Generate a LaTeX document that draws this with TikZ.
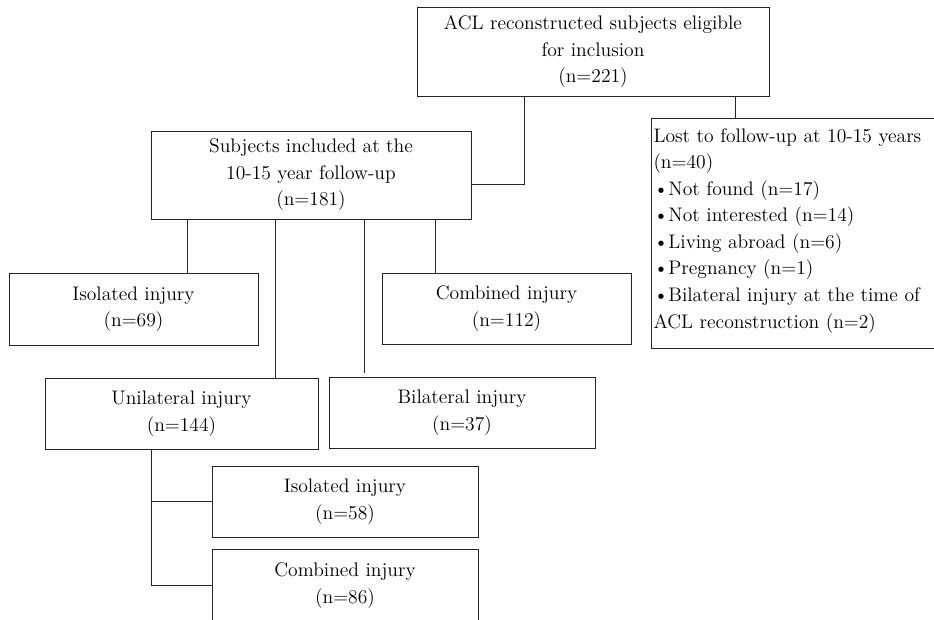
\documentclass[tikz,border=0pt]{standalone}
\usepackage{amsmath}

\tikzset{
  flowbox/.style={draw=black!85, line width=0.75pt, rectangle, align=center, inner sep=1.5pt,
    font=\fontsize{14.7pt}{19.9pt}\selectfont},
  lostbox/.style={flowbox, align=left, anchor=north west, text width=222pt, inner xsep=1.5pt},
  link/.style={draw=black!85, line width=0.75pt}
}

\begin{document}
\begin{tikzpicture}[x=0.75pt,y=0.75pt,yscale=-1,xscale=1]
		\useasboundingbox (0,0) rectangle (934,619);
		\clip (0,0) rectangle (934,619);
		% boxes
		\node [flowbox, minimum width=264pt, minimum height=66.75pt] (eligible) at (593,51.5) {ACL reconstructed subjects eligible\\ for inclusion\\ (n=221)};
		\node [flowbox, minimum width=240pt, minimum height=66pt] (included) at (311,175) {Subjects included at the\\ 10-15 year follow-up\\ (n=181)};
		\node [lostbox, minimum width=225pt, minimum height=172.5pt] (lost) at (651,118) {Lost to follow-up at 10-15 years\\ (n=40)\\ \textbullet Not found (n=17)\\ \textbullet Not interested (n=14)\\ \textbullet Living abroad (n=6)\\ \textbullet Pregnancy (n=1)\\ \textbullet Bilateral injury at the time of\\ ACL reconstruction (n=2)\\[-12pt]\mbox{}};
		\node [flowbox, minimum width=186.75pt, minimum height=54pt] (isoA) at (133.5,309) {Isolated injury\\ (n=69)};
		\node [flowbox, minimum width=186.75pt, minimum height=53.25pt] (combA) at (506.5,308.5) {Combined injury\\ (n=112)};
		\node [flowbox, minimum width=204.75pt, minimum height=53.25pt] (unilat) at (181.5,413.5) {Unilateral injury\\ (n=144)};
		\node [flowbox, minimum width=199.5pt, minimum height=53.25pt] (bilat) at (462,412.5) {Bilateral injury\\ (n=37)};
		\node [flowbox, minimum width=199.5pt, minimum height=53.25pt] (isoB) at (345,501.5) {Isolated injury\\ (n=58)};
		\node [flowbox, minimum width=199.5pt, minimum height=54.75pt] (combB) at (345,585.5) {Combined injury\\ (n=86)};
		% junction points
		\coordinate (elbow) at (524,184);
		\coordinate (dropLost) at (735,0);
		\coordinate (dropIsoA) at (187,0);
		\coordinate (dropUni) at (275,0);
		\coordinate (bilEnd) at (364,373);
		\coordinate (dropCombA) at (435,0);
		\coordinate (dropSub) at (151,0);
		% connectors
		\draw [link] (eligible.south -| elbow) -- (elbow) -- (included.east |- elbow);
		\draw [link] (eligible.south -| dropLost) -- (lost.north -| dropLost);
		\draw [link] (included.south -| dropIsoA) -- (isoA.north -| dropIsoA);
		\draw [link] (included.south -| dropUni) -- (unilat.north -| dropUni);
		\draw [link] (included.south -| bilEnd) -- (bilEnd);
		\draw [link] (included.south -| dropCombA) -- (combA.north -| dropCombA);
		\draw [link] (unilat.south -| dropSub) |- (combB.west);
		\draw [link] (dropSub |- isoB.west) -- (isoB.west);
\end{tikzpicture}
\end{document}
